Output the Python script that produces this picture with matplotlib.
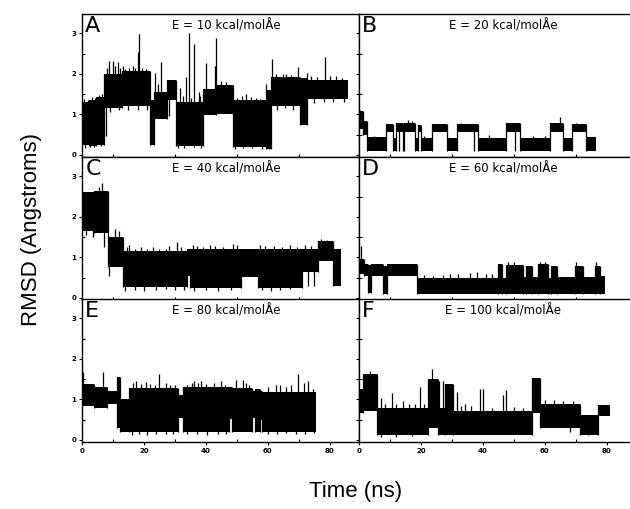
import numpy as np
import matplotlib
matplotlib.use('Agg')
import matplotlib.pyplot as plt
from matplotlib.ticker import MultipleLocator

# RMSD traces, one per field strength: step edges (ns), band low/high (Angstrom),
# plus isolated upward spikes and downward dips (time, value)
fields = [10, 20, 40, 60, 80, 100]
letters = ['A', 'B', 'C', 'D', 'E', 'F']

a_edges = [0, 2.4, 4.5, 7.2, 13, 21.8, 23.2, 27.4, 30.2, 39, 43.3, 48.7, 59.5, 61.1, 70.3, 72.6, 85.9]
a_lo = [0.25, 0.22, 0.25, 1.15, 1.2, 0.24, 0.9, 1.35, 0.22, 0.98, 1.0, 0.2, 0.15, 1.22, 0.75, 1.38]
a_hi = [1.3, 1.35, 1.42, 2.0, 2.07, 1.35, 1.55, 1.85, 1.3, 1.62, 1.72, 1.35, 1.6, 1.93, 1.9, 1.85]
a_spikes = [(0.8, 1.38), (1.8, 1.35), (3.2, 1.42), (4.2, 1.4), (5.5, 1.47), (6.5, 1.5),
            (8.0, 2.15), (8.6, 2.33), (9.9, 2.33), (10.5, 2.2), (11.5, 2.3), (12.3, 2.15), (13.1, 2.2),
            (14.0, 2.12), (15.3, 2.15), (16.5, 2.2), (17.2, 2.15), (18.2, 2.55), (18.5, 2.98), (19.5, 2.15),
            (20.5, 2.12), (23.7, 2.02), (24.5, 1.75), (25.5, 2.3), (31.5, 1.65), (32.5, 1.45), (33.6, 1.93),
            (34.4, 3.0), (35.2, 1.4), (36.3, 2.75), (37.9, 1.55), (38.2, 1.45), (40.1, 2.28), (43.0, 2.2),
            (43.1, 2.89), (45.0, 1.82), (46.6, 1.8), (50.0, 1.4), (51.5, 1.45), (53.0, 1.5), (54.5, 1.42),
            (56.0, 1.4), (57.5, 1.38), (59.5, 1.75), (61.4, 2.38), (62.5, 2.0), (64.9, 2.0), (66.0, 2.0),
            (67.5, 1.98), (69.7, 2.17), (72.6, 2.03), (74.0, 1.95), (76.0, 1.92), (78.3, 2.42), (80.0, 1.95),
            (82.0, 1.95), (84.0, 1.9)]
a_dips = [(1.0, 0.18), (2.5, 0.2), (4.0, 0.2), (6.0, 0.22), (7.8, 0.48), (9.0, 1.05), (12.0, 1.1),
          (15.0, 1.12), (18.0, 1.1), (21.0, 1.12), (28.2, 0.97), (31.0, 0.16), (33.0, 0.18), (36.0, 0.2),
          (38.5, 0.17), (49.5, 0.15), (52.0, 0.16), (55.0, 0.17), (58.0, 0.14), (60.2, 0.15), (63.0, 1.12),
          (65.5, 1.15), (68.0, 1.1), (75.0, 1.28), (78.0, 1.3), (81.0, 1.3), (84.5, 1.3)]

b_edges = [0.3, 1.2, 2.5, 8.7, 10.9, 11.9, 14.1, 14.6, 18.1, 19.1, 19.9, 23.4, 28.3, 31.5, 38.5, 47.4,
           51.9, 61.6, 65.9, 68.9, 73.2, 76.5]
b_lo = [0.65, 0.5, 0.11, 0.56, 0.11, 0.56, 0.11, 0.56, 0.11, 0.56, 0.11, 0.56, 0.11, 0.56, 0.11, 0.56,
        0.11, 0.56, 0.11, 0.56, 0.11]
b_hi = [1.08, 0.85, 0.44, 0.77, 0.42, 0.78, 0.42, 0.8, 0.42, 0.75, 0.42, 0.77, 0.42, 0.77, 0.43, 0.78,
        0.42, 0.8, 0.42, 0.77, 0.45]
b_spikes = [(0.4, 1.12), (5.0, 0.48), (15.9, 0.87), (17.0, 0.85), (21.0, 0.47), (33.0, 0.8), (42.0, 0.5),
            (49.0, 0.8), (56.0, 0.48), (60.0, 0.47), (65.0, 0.93), (70.0, 0.8)]
b_dips = [(13.0, 0.11), (37.2, 0.11), (50.5, 0.11)]

c_edges = [0, 4, 8.3, 13.1, 33.8, 34.7, 51.4, 56.8, 71, 76.2, 81, 83.7]
c_lo = [1.65, 1.6, 0.76, 0.26, 0.55, 0.24, 0.52, 0.25, 0.65, 0.92, 0.3]
c_hi = [2.62, 2.65, 1.5, 1.15, 1.2, 1.22, 1.2, 1.2, 1.2, 1.4, 1.2]
c_spikes = [(5.4, 2.75), (6.4, 2.84), (10.5, 1.7), (12.1, 1.65), (14.5, 1.25), (15.3, 1.3), (17.0, 1.22),
            (19.0, 1.25), (21.0, 1.2), (22.8, 1.25), (25.0, 1.22), (27.0, 1.2), (28.2, 1.28), (30.7, 1.38),
            (32.0, 1.25), (35.8, 1.3), (37.0, 1.28), (39.0, 1.25), (41.2, 1.3), (43.0, 1.28), (45.5, 1.25),
            (48.7, 1.34), (50.0, 1.3), (57.3, 1.3), (59.0, 1.28), (62.0, 1.28), (64.5, 1.25), (67.0, 1.3),
            (69.5, 1.25), (72.0, 1.3), (74.0, 1.28), (77.0, 1.45), (79.0, 1.42)]
c_dips = [(1.3, 1.55), (3.4, 1.5), (7.0, 1.25), (8.6, 0.55), (14.0, 0.18), (17.0, 0.2), (20.0, 0.18),
          (24.0, 0.2), (27.0, 0.22), (30.0, 0.19), (33.0, 0.2), (36.0, 0.18), (40.0, 0.2), (44.0, 0.18),
          (48.0, 0.2), (58.0, 0.2), (61.0, 0.18), (64.0, 0.2), (67.0, 0.22), (73.0, 0.3), (75.0, 0.3)]

d_edges = [0.3, 1.5, 3.0, 3.8, 7.8, 9.0, 18.6, 44.9, 46.0, 47.6, 53.0, 54.0, 55.7, 57.8, 61.0, 62.0,
           63.8, 69.7, 72.4, 76.1, 77.7, 79.4]
d_lo = [0.6, 0.55, 0.13, 0.55, 0.1, 0.55, 0.1, 0.1, 0.1, 0.1, 0.1, 0.1, 0.1, 0.1, 0.1, 0.1, 0.1, 0.1,
        0.1, 0.1, 0.1]
d_hi = [0.95, 0.84, 0.82, 0.84, 0.8, 0.84, 0.5, 0.84, 0.5, 0.82, 0.52, 0.8, 0.52, 0.84, 0.5, 0.8, 0.52,
        0.8, 0.52, 0.78, 0.55]
d_spikes = [(0.5, 1.28), (21.0, 0.56), (24.0, 0.55), (27.0, 0.57), (29.4, 0.6), (32.0, 0.58), (35.8, 0.62),
            (38.0, 0.65), (41.0, 0.6), (43.0, 0.58), (48.0, 0.9), (50.0, 0.88), (58.5, 0.9), (60.0, 0.88),
            (70.0, 0.88), (76.5, 0.9)]
d_dips = []

e_edges = [0, 4, 8, 11.3, 12.2, 15.3, 31, 32.5, 47.3, 48.3, 55, 55.8, 57.3, 58.2, 75.6]
e_lo = [0.85, 0.78, 0.9, 0.29, 0.2, 0.2, 0.55, 0.2, 0.53, 0.2, 0.55, 0.2, 0.5, 0.2]
e_hi = [1.38, 1.3, 1.2, 1.56, 1.0, 1.28, 1.1, 1.3, 1.3, 1.28, 1.2, 1.25, 1.2, 1.18]
e_spikes = [(0.2, 1.68), (6.7, 1.68), (16.5, 1.4), (17.5, 1.45), (19.0, 1.38), (20.5, 1.42), (22.0, 1.38),
            (23.4, 1.35), (25.0, 1.64), (27.2, 1.4), (28.5, 1.35), (30.0, 1.35), (34.0, 1.35), (35.5, 1.4),
            (36.3, 1.45), (37.5, 1.4), (38.5, 1.45), (40.0, 1.38), (42.5, 1.4), (44.9, 1.45), (46.0, 1.35),
            (49.8, 1.48), (51.9, 1.48), (53.0, 1.4), (54.0, 1.35), (60.0, 1.3), (62.7, 1.35), (64.0, 1.35),
            (66.0, 1.3), (67.5, 1.35), (69.7, 1.64), (71.5, 1.4), (73.0, 1.45), (74.5, 1.25)]
e_dips = [(16.0, 0.13), (18.5, 0.15), (21.0, 0.13), (24.0, 0.15), (27.0, 0.14), (29.5, 0.15), (34.0, 0.14),
          (37.0, 0.15), (40.5, 0.13), (44.0, 0.15), (46.5, 0.14), (60.0, 0.15), (63.0, 0.14), (66.0, 0.16),
          (69.0, 0.14), (72.0, 0.15), (75.0, 0.16)]

f_edges = [0.1, 1.4, 5.7, 22.4, 25.6, 27.7, 30.4, 55.7, 58.4, 71.3, 77.2, 81]
f_lo = [0.66, 0.72, 0.12, 0.3, 0.12, 0.12, 0.12, 0.66, 0.29, 0.12, 0.58]
f_hi = [1.27, 1.62, 0.8, 1.5, 0.8, 1.38, 0.72, 1.52, 0.9, 0.62, 0.86]
f_spikes = [(3.5, 1.7), (7.1, 1.03), (8.5, 0.9), (10.5, 1.15), (12.0, 0.88), (14.3, 0.95), (16.0, 0.9),
            (18.0, 0.88), (19.7, 1.31), (21.0, 0.9), (23.4, 1.75), (25.9, 1.45), (27.2, 1.45), (31.5, 1.19),
            (33.0, 0.85), (34.2, 0.9), (36.0, 0.85), (39.0, 1.27), (40.1, 1.27), (43.0, 0.8), (46.6, 1.1),
            (47.6, 1.23), (50.0, 0.82), (53.0, 0.8), (60.0, 0.98), (63.0, 0.98), (66.0, 0.95), (69.0, 0.95)]
f_dips = [(7.0, 0.08), (12.0, 0.08), (17.0, 0.09), (68.0, 0.2), (74.0, 0.12)]

traces = [(a_edges, a_lo, a_hi, a_spikes, a_dips),
          (b_edges, b_lo, b_hi, b_spikes, b_dips),
          (c_edges, c_lo, c_hi, c_spikes, c_dips),
          (d_edges, d_lo, d_hi, d_spikes, d_dips),
          (e_edges, e_lo, e_hi, e_spikes, e_dips),
          (f_edges, f_lo, f_hi, f_spikes, f_dips)]


def seg_index(edges, t):
    i = np.searchsorted(edges, t, side='right') - 1
    return int(min(max(i, 0), len(edges) - 2))


def draw_trace(ax, edges, lo, hi, spikes, dips):
    edges, lo, hi = np.array(edges), np.array(lo), np.array(hi)
    ax.bar(edges[:-1], hi - lo, width=np.diff(edges), bottom=lo, align='edge', color='k', lw=0)
    # jumps between neighbouring states
    for j in range(1, len(edges) - 1):
        ax.vlines(edges[j], min(lo[j - 1], lo[j]), max(hi[j - 1], hi[j]), color='k', lw=0.9)
    for t, v in spikes:
        i = seg_index(edges, t)
        ax.vlines(t, hi[i] - 0.05, v, color='k', lw=0.9)
    for t, v in dips:
        i = seg_index(edges, t)
        ax.vlines(t, v, lo[i] + 0.05, color='k', lw=0.9)


W, H = 630, 509
fig = plt.figure(figsize=(W / 100, H / 100), dpi=100)
lefts = [82, 359]
tops = [14, 157, 299]
aw, ah = 277, 143

tick_font = dict(fontsize=5, fontweight='bold', family='DejaVu Sans')

for k in range(6):
    row, col = k // 2, k % 2
    ax = fig.add_axes([lefts[col] / W, 1 - (tops[row] + ah) / H, aw / W, ah / H])
    draw_trace(ax, *traces[k])
    ax.set_xlim(0, 89.4)
    ax.set_ylim(-0.05, 3.48)
    ax.xaxis.set_major_locator(MultipleLocator(20))
    ax.xaxis.set_minor_locator(MultipleLocator(10))
    ax.yaxis.set_major_locator(MultipleLocator(1))
    ax.yaxis.set_minor_locator(MultipleLocator(0.5))
    ax.tick_params(which='major', direction='out', length=2.5, width=0.8, left=True, right=True,
                   top=False, pad=1.5)
    ax.tick_params(which='minor', direction='in', length=2.5, width=0.8, left=True, right=True,
                   top=False)
    for s in ax.spines.values():
        s.set_linewidth(1.0)
    if row == 2:
        ax.set_xticklabels([str(int(v)) for v in ax.get_xticks()], **tick_font)
    else:
        ax.set_xticklabels([])
    if col == 0:
        ax.set_yticklabels([str(int(v)) for v in ax.get_yticks()], **tick_font)
    else:
        ax.set_yticklabels([])
    ax.text(0.012, 0.985, letters[k], transform=ax.transAxes, ha='left', va='top',
            fontsize=16, family='DejaVu Sans')
    ax.text(0.52, 0.915, f'E = {fields[k]} kcal/molÅe', transform=ax.transAxes, ha='center',
            va='center', fontsize=8.5, family='DejaVu Sans')

fig.text(32 / W, 1 - 230 / H, 'RMSD (Angstroms)', rotation=90, ha='center', va='center',
         fontsize=16, family='Liberation Sans')
fig.text(356 / W, 1 - 491 / H, 'Time (ns)', ha='center', va='center',
         fontsize=16, family='Liberation Sans')

fig.savefig('out.png', dpi=100)
